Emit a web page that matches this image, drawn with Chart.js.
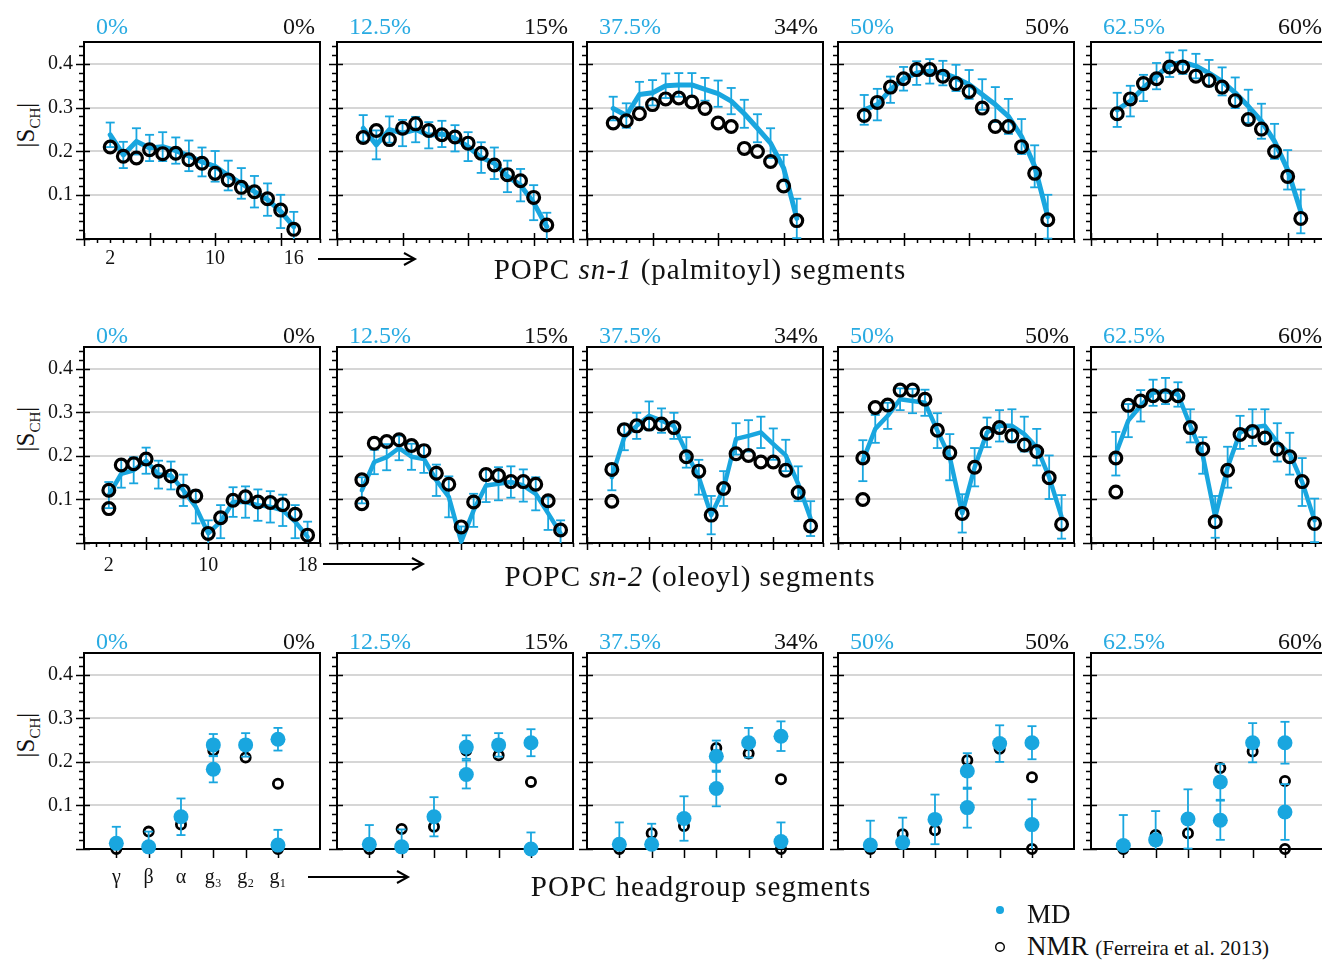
<!DOCTYPE html>
<html>
<head>
<meta charset="utf-8">
<script src="https://cdn.jsdelivr.net/npm/chart.js@4.4.1/dist/chart.umd.min.js"></script>
<style>
  body { margin: 0; background: #fff; width: 1322px; height: 964px; overflow: hidden; position: relative;
         font-family: 'Liberation Serif', 'DejaVu Serif', serif; color: #111; }
  .panel { position: absolute; }
  .t { position: absolute; white-space: nowrap; font-size: 24px; line-height: 24px; }
  .md { color: #29abe2; }
  .cap { position: absolute; white-space: nowrap; font-size: 29px; line-height: 30px; letter-spacing: 1px;
         transform: translateX(-50%); }
  .ylab { position: absolute; font-size: 25px; white-space: nowrap; transform: translate(-50%, -50%) rotate(-90deg); }
  .ylab sub { font-size: 15px; }
  .leg { position: absolute; white-space: nowrap; font-size: 27px; line-height: 30px; }
  .leg small { font-size: 21px; }
  svg { position: absolute; left: 0; top: 0; }
</style>
</head>
<body>
<svg id="arrows" width="1322" height="964"></svg>
<script>
'use strict';

const BLUE = '#19a6df';
const TICK_FONT = { family: "'Liberation Serif', 'DejaVu Serif', serif", size: 20 };

// --- data ---------------------------------------------------------------
const mdContent = ['0%', '12.5%', '37.5%', '50%', '62.5%'];
const nmrContent = ['0%', '15%', '34%', '50%', '60%'];

const sn1Carbons = [2, 3, 4, 5, 6, 7, 8, 9, 10, 11, 12, 13, 14, 15, 16];
const sn2Carbons = [2, 3, 4, 5, 6, 7, 8, 9, 10, 11, 12, 13, 14, 15, 16, 17, 18];
const headPositions = [1, 2, 3, 4, 5, 6];
const headLabels = ['γ', 'β', 'α', 'g₃', 'g₂', 'g₁'];

const sn1MD = [
  [0.238, 0.192, 0.223, 0.208, 0.211, 0.202, 0.19, 0.176, 0.166, 0.145, 0.127, 0.108, 0.09, 0.063, 0.028],
  [0.253, 0.215, 0.25, 0.242, 0.25, 0.237, 0.24, 0.23, 0.211, 0.186, 0.173, 0.143, 0.123, 0.083, 0.028],
  [0.298, 0.282, 0.33, 0.334, 0.35, 0.352, 0.352, 0.342, 0.332, 0.315, 0.286, 0.253, 0.219, 0.162, 0.047],
  [0.295, 0.307, 0.341, 0.366, 0.379, 0.383, 0.379, 0.368, 0.353, 0.33, 0.307, 0.28, 0.234, 0.166, 0.051],
  [0.295, 0.315, 0.345, 0.372, 0.398, 0.404, 0.395, 0.379, 0.36, 0.334, 0.303, 0.269, 0.223, 0.158, 0.063]
];
const sn1MDErr = [
  [0.028, 0.03, 0.03, 0.03, 0.033, 0.03, 0.035, 0.033, 0.035, 0.034, 0.035, 0.036, 0.037, 0.038, 0.034],
  [0.03, 0.033, 0.03, 0.03, 0.029, 0.03, 0.03, 0.03, 0.033, 0.035, 0.036, 0.036, 0.037, 0.04, 0.032],
  [0.027, 0.028, 0.029, 0.029, 0.028, 0.027, 0.027, 0.026, 0.03, 0.03, 0.032, 0.032, 0.034, 0.03, 0.045],
  [0.034, 0.036, 0.03, 0.027, 0.027, 0.028, 0.028, 0.03, 0.033, 0.035, 0.04, 0.04, 0.04, 0.048, 0.05],
  [0.039, 0.035, 0.03, 0.03, 0.028, 0.027, 0.028, 0.03, 0.032, 0.035, 0.038, 0.04, 0.04, 0.045, 0.05]
];
const sn1NMR = [
  [0.21, 0.189, 0.185, 0.204, 0.195, 0.196, 0.181, 0.173, 0.15, 0.135, 0.118, 0.108, 0.092, 0.066, 0.022],
  [0.232, 0.248, 0.227, 0.253, 0.263, 0.248, 0.238, 0.233, 0.219, 0.196, 0.169, 0.147, 0.133, 0.095, 0.032],
  [0.265, 0.27, 0.286, 0.307, 0.32, 0.322, 0.313, 0.298, 0.265, 0.257, 0.207, 0.2, 0.177, 0.121, 0.042],
  [0.282, 0.312, 0.347, 0.366, 0.387, 0.387, 0.372, 0.355, 0.337, 0.299, 0.257, 0.257, 0.211, 0.15, 0.044],
  [0.286, 0.32, 0.355, 0.366, 0.393, 0.393, 0.372, 0.362, 0.347, 0.316, 0.273, 0.251, 0.2, 0.143, 0.047]
];

const sn2MD = [
  [0.11, 0.159, 0.167, 0.189, 0.157, 0.155, 0.121, 0.083, 0.022, 0.049, 0.094, 0.094, 0.087, 0.083, 0.075, 0.049, 0.014],
  [0.121, 0.186, 0.197, 0.218, 0.198, 0.193, 0.144, 0.106, 0.003, 0.075, 0.132, 0.136, 0.14, 0.132, 0.113, 0.068, 0.022],
  [0.151, 0.243, 0.269, 0.292, 0.281, 0.269, 0.208, 0.151, 0.064, 0.125, 0.239, 0.246, 0.254, 0.227, 0.201, 0.136, 0.056],
  [0.189, 0.262, 0.292, 0.33, 0.326, 0.322, 0.258, 0.197, 0.068, 0.174, 0.254, 0.269, 0.269, 0.25, 0.22, 0.151, 0.06],
  [0.205, 0.281, 0.315, 0.345, 0.349, 0.341, 0.269, 0.201, 0.06, 0.174, 0.254, 0.265, 0.269, 0.231, 0.205, 0.14, 0.052]
];
const sn2MDErr = [
  [0.03, 0.032, 0.03, 0.03, 0.032, 0.032, 0.036, 0.038, 0.03, 0.038, 0.034, 0.036, 0.036, 0.036, 0.036, 0.038, 0.035],
  [0.03, 0.028, 0.03, 0.028, 0.03, 0.032, 0.036, 0.047, 0.035, 0.038, 0.038, 0.038, 0.036, 0.037, 0.038, 0.038, 0.03],
  [0.03, 0.03, 0.03, 0.033, 0.028, 0.03, 0.035, 0.04, 0.044, 0.04, 0.036, 0.036, 0.036, 0.036, 0.036, 0.04, 0.04],
  [0.047, 0.032, 0.03, 0.025, 0.028, 0.03, 0.04, 0.053, 0.044, 0.044, 0.034, 0.036, 0.038, 0.04, 0.042, 0.05, 0.05],
  [0.05, 0.038, 0.036, 0.03, 0.03, 0.028, 0.038, 0.042, 0.048, 0.047, 0.038, 0.042, 0.038, 0.044, 0.048, 0.055, 0.05]
];
const sn2NMR = [
  [0.121, 0.179, 0.182, 0.193, 0.165, 0.154, 0.119, 0.108, 0.022, 0.058, 0.098, 0.106, 0.094, 0.093, 0.088, 0.066, 0.018],
  [0.145, 0.229, 0.233, 0.237, 0.224, 0.212, 0.16, 0.135, 0.037, 0.094, 0.157, 0.155, 0.141, 0.141, 0.135, 0.097, 0.03],
  [0.169, 0.26, 0.269, 0.273, 0.273, 0.265, 0.198, 0.165, 0.064, 0.125, 0.205, 0.201, 0.186, 0.186, 0.167, 0.116, 0.039],
  [0.195, 0.311, 0.317, 0.351, 0.351, 0.33, 0.259, 0.207, 0.068, 0.174, 0.252, 0.265, 0.246, 0.225, 0.21, 0.15, 0.043],
  [0.195, 0.316, 0.326, 0.338, 0.338, 0.338, 0.265, 0.216, 0.049, 0.167, 0.249, 0.256, 0.241, 0.216, 0.198, 0.141, 0.045]
];
// second (split) C2 value of the NMR oleoyl chain
const sn2NMRc2b = [0.079, 0.09, 0.096, 0.1, 0.117];

const headMD = [
  [0.013, 0.005, 0.074, 0.239, 0.239, 0.252],
  [0.011, 0.005, 0.074, 0.234, 0.239, 0.244],
  [0.011, 0.011, 0.07, 0.213, 0.244, 0.259],
  [0.009, 0.015, 0.068, 0.179, 0.242, 0.244],
  [0.008, 0.021, 0.069, 0.154, 0.244, 0.244]
];
const headMDErr = [
  [0.038, 0.035, 0.042, 0.025, 0.027, 0.026],
  [0.044, 0.04, 0.045, 0.027, 0.027, 0.031],
  [0.05, 0.047, 0.051, 0.036, 0.034, 0.034],
  [0.056, 0.057, 0.057, 0.041, 0.042, 0.038],
  [0.07, 0.066, 0.068, 0.041, 0.045, 0.048]
];
const headMD2 = [
  [null, null, null, 0.183, null, 0.009],
  [null, null, null, 0.171, null, 0.0],
  [null, null, null, 0.139, null, 0.017],
  [null, null, null, 0.095, null, 0.056],
  [null, null, null, 0.066, null, 0.085]
];
const headMD2Err = [
  [0, 0, 0, 0.03, 0, 0.035],
  [0, 0, 0, 0.032, 0, 0.038],
  [0, 0, 0, 0.041, 0, 0.044],
  [0, 0, 0, 0.046, 0, 0.058],
  [0, 0, 0, 0.045, 0, 0.064]
];
const headNMR = [
  [0.0, 0.04, 0.056, 0.226, 0.21, 0.15],
  [0.0, 0.046, 0.051, 0.226, 0.215, 0.154],
  [0.0, 0.036, 0.053, 0.232, 0.219, 0.16],
  [0.0, 0.034, 0.043, 0.204, 0.23, 0.165],
  [0.0, 0.032, 0.036, 0.186, 0.224, 0.156]
];
const headNMR2 = [
  [null, null, null, null, null, 0.0],
  [null, null, null, null, null, 0.0],
  [null, null, null, null, null, 0.0],
  [null, null, null, null, null, 0.0],
  [null, null, null, null, null, 0.0]
];

// --- layout ---------------------------------------------------------------
const PLOT_LEFT = [84, 337, 587, 838, 1091];
const PLOT_W = 236;
const AXIS_H = 45;
const ROWS = [
  { top: 42, h: 197, titleY: 26, xMax: 18, xPad: 8, labels: { 2: '2', 10: '10', 16: '16' } },
  { top: 347, h: 196, titleY: 335, xMax: 19, xPad: 11, labels: { 2: '2', 10: '10', 18: '18' } },
  { top: 653, h: 196, titleY: 641, xMax: 7.3, xPad: 17, labels: { 1: 'γ', 2: 'β', 3: 'α', 4: 'g₃', 5: 'g₂', 6: 'g₁' } }
];

function pts(xs, ys) {
  const out = [];
  xs.forEach((x, i) => { if (ys[i] !== null && ys[i] !== undefined) { out.push({ x, y: ys[i] }); } });
  return out;
}

function errorSets(xs, ys, es, bars, caps) {
  xs.forEach((x, i) => {
    if (ys[i] === null || ys[i] === undefined || !es[i]) { return; }
    const lo = ys[i] - es[i];
    const hi = ys[i] + es[i];
    bars.push({ x, y: Math.max(0, lo) }, { x, y: hi }, { x, y: null });
    caps.push({ x, y: hi });
    if (lo >= 0) { caps.push({ x, y: lo }); }
  });
}

// frame + tick marks, drawn through the chart scales
const frameTicks = {
  id: 'frameTicks',
  beforeDatasetsDraw(chart, args, opts) {
    const { ctx, chartArea: a, scales: { x, y } } = chart;
    ctx.save();
    ctx.strokeStyle = '#000';
    ctx.lineWidth = 1.5;
    ctx.beginPath();
    for (let i = 0; i <= 22; i++) {
      const py = Math.round(y.getPixelForValue(i * 0.02)) + 0.5;
      const major = i % 5 === 0;
      ctx.moveTo(a.left - (major ? 8 : 5), py);
      ctx.lineTo(a.left + (major ? 6 : 0), py);
    }
    if (opts.head) {
      for (let v = 1; v <= 6; v++) {
        const px = Math.round(x.getPixelForValue(v)) + 0.5;
        ctx.moveTo(px, a.bottom + 9); ctx.lineTo(px, a.bottom);
      }
    } else {
      for (let v = 0; v <= opts.xMax; v++) {
        const px = Math.round(x.getPixelForValue(v)) + 0.5;
        const major = v % 5 === 0;
        ctx.moveTo(px, a.bottom + (major ? 7 : 4));
        ctx.lineTo(px, a.bottom - (major ? 6 : 0));
      }
    }
    ctx.stroke();
    ctx.lineWidth = 2;
    ctx.strokeRect(a.left, a.top, a.right - a.left, a.bottom - a.top);
    ctx.restore();
  }
};

function makePanel(row, col, datasets, head) {
  const r = ROWS[row];
  const wrap = document.createElement('div');
  wrap.className = 'panel';
  wrap.style.left = (PLOT_LEFT[col] - 40) + 'px';
  wrap.style.top = (r.top - 10) + 'px';
  wrap.style.width = (PLOT_W + 50) + 'px';
  wrap.style.height = (r.h + 10 + AXIS_H) + 'px';
  const canvas = document.createElement('canvas');
  wrap.appendChild(canvas);
  document.body.appendChild(wrap);

  const first = col === 0;
  new Chart(canvas, {
    type: 'scatter',
    data: { datasets },
    options: {
      animation: false,
      responsive: true,
      maintainAspectRatio: false,
      events: [],
      layout: { padding: { top: 10, right: 10, left: 0, bottom: 0 } },
      plugins: { legend: { display: false }, tooltip: { enabled: false }, frameTicks: { head, xMax: r.xMax } },
      scales: {
        x: {
          type: 'linear', min: 0, max: r.xMax, offset: false,
          grid: { display: false, drawTicks: false }, border: { display: false },
          ticks: {
            display: first, stepSize: 1, autoSkip: false, maxRotation: 0, padding: r.xPad,
            color: '#111', font: TICK_FONT,
            callback: v => r.labels[v] || ''
          },
          afterFit: s => { s.height = AXIS_H; s.paddingLeft = 0; s.paddingRight = 0; }
        },
        y: {
          min: 0, max: 0.45,
          grid: {
            drawTicks: false, lineWidth: 2,
            color: c => (c.tick && c.tick.value > 0.05 && c.tick.value < 0.42) ? '#d6d6d6' : 'rgba(0,0,0,0)'
          },
          border: { display: false },
          ticks: {
            display: first, stepSize: 0.1, padding: 11, color: '#111', font: TICK_FONT,
            callback: v => (v > 0.05 && v < 0.42) ? v.toFixed(1) : ''
          },
          afterFit: s => { s.width = 40; s.paddingTop = 0; s.paddingBottom = 0; }
        }
      }
    },
    plugins: [frameTicks]
  });
}

function chainDatasets(xs, md, err, nmr, lineW) {
  const bars = [];
  const caps = [];
  errorSets(xs, md, err, bars, caps);
  return [
    { type: 'scatter', data: nmr, pointStyle: 'circle', pointRadius: 5.9, borderWidth: 3.2,
      borderColor: '#000', backgroundColor: 'rgba(0,0,0,0)', order: 1, clip: false },
    { type: 'scatter', data: caps, pointStyle: 'line', pointRadius: 4.5, borderWidth: 1.8,
      borderColor: BLUE, order: 2, clip: false },
    { type: 'line', data: bars, borderColor: BLUE, borderWidth: 1.8, pointRadius: 0,
      spanGaps: false, order: 3, clip: false },
    { type: 'line', data: pts(xs, md), borderColor: BLUE, borderWidth: lineW, pointRadius: 0,
      borderJoinStyle: 'round', borderCapStyle: 'round', order: 4, clip: false }
  ];
}

for (let c = 0; c < 5; c++) {
  // sn-1
  makePanel(0, c, chainDatasets(sn1Carbons, sn1MD[c], sn1MDErr[c], pts(sn1Carbons, sn1NMR[c]), 5), false);
  // sn-2 (C2 has two NMR splittings)
  const nmr2 = pts(sn2Carbons, sn2NMR[c]).concat([{ x: sn2Carbons[0], y: sn2NMRc2b[c] }]);
  makePanel(1, c, chainDatasets(sn2Carbons, sn2MD[c], sn2MDErr[c], nmr2, 4.5), false);
  // headgroup
  const bars = [];
  const caps = [];
  errorSets(headPositions, headMD[c], headMDErr[c], bars, caps);
  errorSets(headPositions, headMD2[c], headMD2Err[c], bars, caps);
  makePanel(2, c, [
    { type: 'scatter', data: pts(headPositions, headMD[c]).concat(pts(headPositions, headMD2[c])),
      pointStyle: 'circle', pointRadius: 7.5, borderWidth: 0, backgroundColor: BLUE, order: 1, clip: false },
    { type: 'scatter', data: caps, pointStyle: 'line', pointRadius: 4.5, borderWidth: 1.8,
      borderColor: BLUE, order: 2, clip: false },
    { type: 'line', data: bars, borderColor: BLUE, borderWidth: 1.8, pointRadius: 0,
      spanGaps: false, order: 3, clip: false },
    { type: 'scatter', data: pts(headPositions, headNMR[c]).concat(pts(headPositions, headNMR2[c])),
      pointStyle: 'circle', pointRadius: 4.6, borderWidth: 2.8, borderColor: '#000',
      backgroundColor: 'rgba(0,0,0,0)', order: 4, clip: false }
  ], true);
}

// --- texts ----------------------------------------------------------------
function addText(cls, html, left, top, extra) {
  const d = document.createElement('div');
  d.className = cls;
  d.innerHTML = html;
  d.style.left = left + 'px';
  d.style.top = top + 'px';
  Object.assign(d.style, extra || {});
  document.body.appendChild(d);
  return d;
}

ROWS.forEach((r, ri) => {
  for (let c = 0; c < 5; c++) {
    addText('t md', mdContent[c], PLOT_LEFT[c] + 12, r.titleY - 12);
    addText('t', nmrContent[c], PLOT_LEFT[c], r.titleY - 12, { width: (PLOT_W - 5) + 'px', textAlign: 'right' });
  }
  addText('ylab', '|S<sub>CH</sub>|', 28, r.top + r.h * 0.42);
});

addText('cap', 'POPC <i>sn-1</i> (palmitoyl) segments', 700, 254);
addText('cap', 'POPC <i>sn-2</i> (oleoyl) segments', 690, 561);
addText('cap', 'POPC headgroup segments', 701, 871);

// arrows
const svg = document.getElementById('arrows');
[[318, 415, 259], [323, 423, 564], [308, 408, 877]].forEach(([x1, x2, y]) => {
  svg.insertAdjacentHTML('beforeend',
    `<line x1="${x1}" y1="${y}" x2="${x2}" y2="${y}" stroke="#000" stroke-width="2"/>` +
    `<polyline points="${x2 - 11},${y - 6} ${x2},${y} ${x2 - 11},${y + 6}" fill="none" stroke="#000" stroke-width="2"/>`);
});
// legend markers
svg.insertAdjacentHTML('beforeend',
  `<circle cx="1000" cy="910" r="4" fill="${BLUE}"/>` +
  `<circle cx="1000" cy="947" r="4.3" fill="none" stroke="#000" stroke-width="1.4"/>`);
addText('leg', 'MD', 1027, 899);
addText('leg', 'NMR <small>(Ferreira et al. 2013)</small>', 1027, 931);
</script>
</body>
</html>
